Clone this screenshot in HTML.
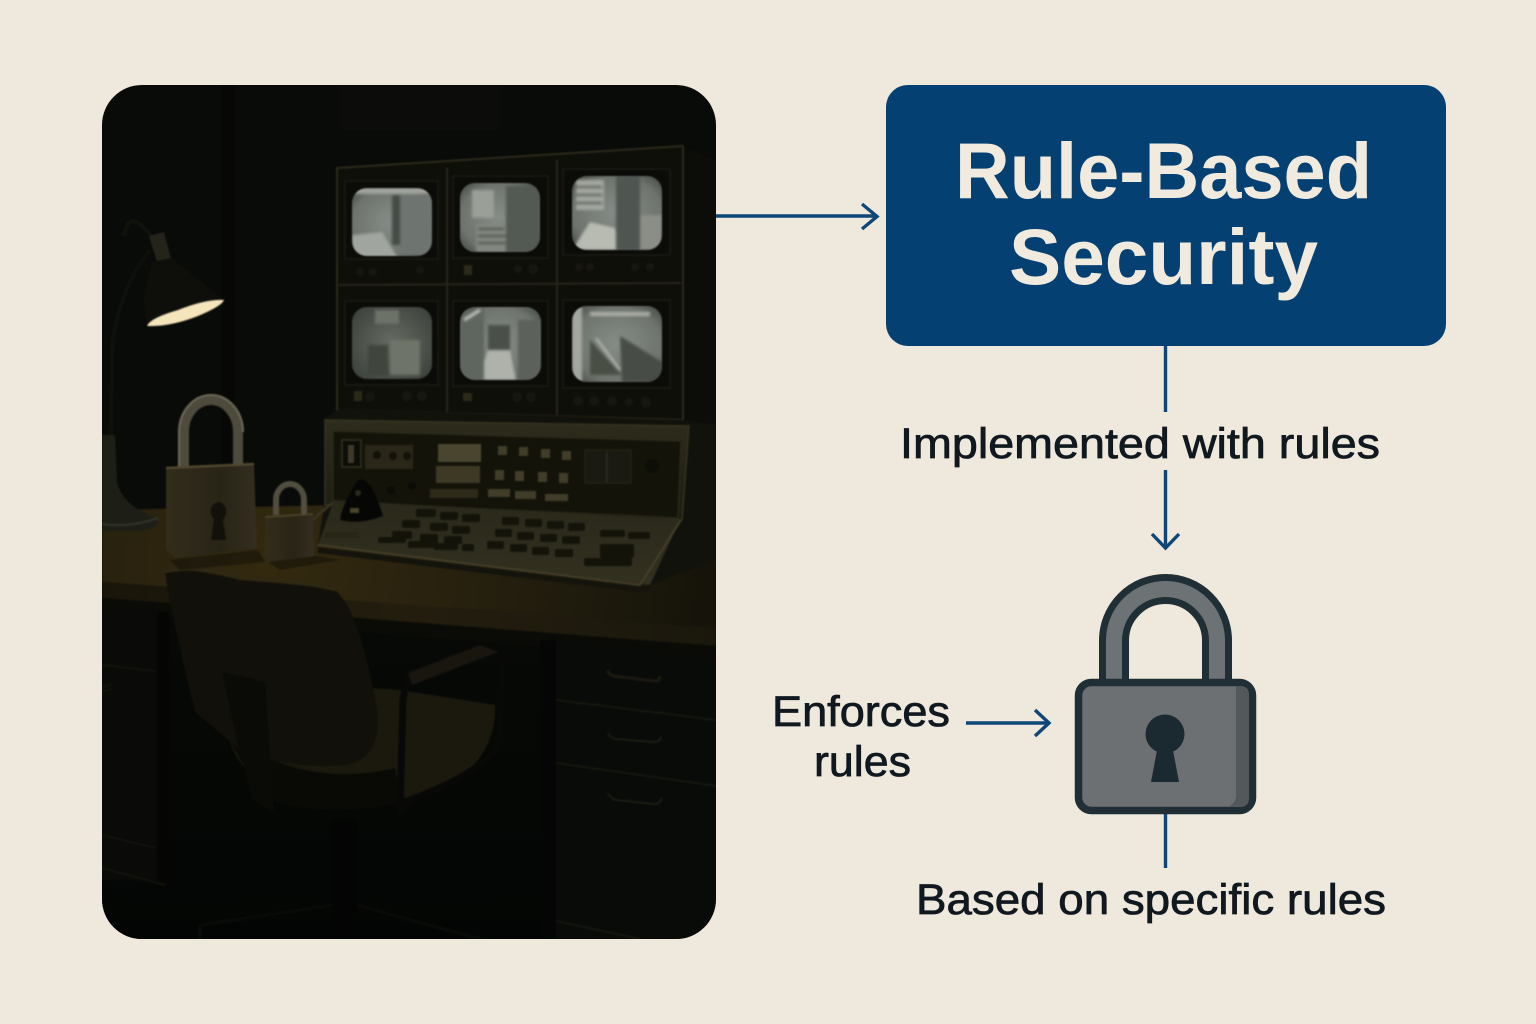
<!DOCTYPE html>
<html><head><meta charset="utf-8"><title>Rule-Based Security</title>
<style>html,body{margin:0;padding:0;background:#efe8dd}svg{display:block}text{font-family:"Liberation Sans",sans-serif;fill:#10191f}.lb{stroke:#10191f;stroke-width:.75}</style></head>
<body>
<svg width="1536" height="1024" viewBox="0 0 1536 1024" xmlns="http://www.w3.org/2000/svg">
<defs>
<clipPath id="panel"><rect x="102" y="85" width="614" height="854" rx="40"/></clipPath>
<filter id="soft" x="-2%" y="-2%" width="104%" height="104%" color-interpolation-filters="sRGB"><feGaussianBlur stdDeviation=".7"/></filter>
<filter id="soft2" x="-5%" y="-5%" width="110%" height="110%" color-interpolation-filters="sRGB"><feGaussianBlur stdDeviation="1.3"/></filter>
<radialGradient id="glow" gradientUnits="userSpaceOnUse" cx="270" cy="560" r="430"><stop offset="0" stop-color="#33290f"/><stop offset=".5" stop-color="#251f0e"/><stop offset="1" stop-color="#16140a"/></radialGradient>
<linearGradient id="floor" x1="0" y1="0" x2="0" y2="1"><stop offset="0" stop-color="#070906"/><stop offset="1" stop-color="#030504"/></linearGradient>
<linearGradient id="front" x1="0" y1="0" x2="1" y2="0"><stop offset="0" stop-color="#191509"/><stop offset=".5" stop-color="#231d0e"/><stop offset="1" stop-color="#1a170c"/></linearGradient>
<linearGradient id="console" x1="0" y1="0" x2="0" y2="1"><stop offset="0" stop-color="#2e2c1c"/><stop offset="1" stop-color="#1c1b12"/></linearGradient>
<linearGradient id="deck" x1="0" y1="0" x2="0" y2="1"><stop offset="0" stop-color="#29281a"/><stop offset="1" stop-color="#33301f"/></linearGradient>
<linearGradient id="lockB" x1="0" y1="0" x2="1" y2="0"><stop offset="0" stop-color="#332c1b"/><stop offset=".6" stop-color="#282416"/><stop offset="1" stop-color="#332e20"/></linearGradient>
<radialGradient id="scr" cx=".5" cy=".5" r=".7"><stop offset="0" stop-color="#868c87"/><stop offset=".7" stop-color="#6e746d"/><stop offset="1" stop-color="#3e443e"/></radialGradient>
<radialGradient id="scr2" cx=".5" cy=".5" r=".7"><stop offset="0" stop-color="#666b63"/><stop offset="1" stop-color="#393e38"/></radialGradient>
<clipPath id="s1"><rect x="352" y="188" width="80" height="68" rx="15"/></clipPath>
<clipPath id="s2"><rect x="460" y="183" width="80" height="69" rx="15"/></clipPath>
<clipPath id="s3"><rect x="572" y="176" width="90" height="74" rx="15"/></clipPath>
<clipPath id="s4"><rect x="352" y="307" width="80" height="72" rx="15"/></clipPath>
<clipPath id="s5"><rect x="460" y="307" width="81" height="73" rx="15"/></clipPath>
<clipPath id="s6"><rect x="572" y="306" width="90" height="76" rx="15"/></clipPath>
</defs>
<rect width="1536" height="1024" fill="#efe8dd"/>

<g clip-path="url(#panel)">
<rect x="102" y="85" width="614" height="854" fill="#090b08"/>
<g filter="url(#soft)">
<rect x="222" y="85" width="12" height="440" fill="#070806"/>
<rect x="340" y="85" width="160" height="45" fill="#0c0d0a"/>
<!-- floor -->
<rect x="102" y="600" width="614" height="339" fill="url(#floor)"/>
<!-- desk top -->
<polygon points="102,510 340,505 716,560 716,628 102,582" fill="url(#glow)"/>
<!-- desk front -->
<polygon points="102,582 716,628 716,646 102,598" fill="url(#front)"/>
<polygon points="102,598 716,646 716,660 102,612" fill="#0a0b07"/>
<!-- left drawers -->
<rect x="102" y="610" width="55" height="270" fill="#0a0b08"/>
<rect x="157" y="612" width="12" height="275" fill="#050604"/>
<path d="M102 665 L155 671 M102 835 L155 848 M102 868 L165 885" stroke="#14150f" stroke-width="1.5" fill="none"/>
<path d="M102 686 q5 2 10-3 M102 690 q5 2 10-2" stroke="#15150f" stroke-width="1.5" fill="none"/>
<!-- right cabinet -->
<rect x="540" y="640" width="16" height="299" fill="#040504"/>
<polygon points="556,640 716,660 716,939 556,939" fill="#090b08"/>
<path d="M556 700 L716 720 M556 763 L716 786 M556 921 L640 939" stroke="#181912" stroke-width="1.6" fill="none"/>
<path d="M608 670 q0 5 6 6 l40 5 q6 0 6-5" stroke="#1c1910" stroke-width="3" fill="none"/>
<path d="M608 733 q3 6 8 6 l38 3 q6 0 7-5" stroke="#1e1e15" stroke-width="1.8" fill="none"/>
<path d="M608 793 q3 6 8 7 l38 4 q6 0 8-6" stroke="#1e1e15" stroke-width="1.8" fill="none"/>
<!-- chair base -->
<rect x="333" y="820" width="24" height="119" fill="#030403"/>
<path d="M200 939 L200 925 L333 905 M357 905 L480 939" stroke="#0a0b08" stroke-width="3" fill="none"/>
<!-- lamp -->
<path d="M110 522 L112 350 Q118 290 150 250" stroke="#0f100b" stroke-width="4" fill="none"/>
<path d="M124 236 Q128 212 142 226 L152 236" stroke="#11120c" stroke-width="4" fill="none"/>
<path d="M149 236 L164 232 L171 258 L157 262Z" fill="#24241a"/>
<polygon points="152,262 172,258 224,300 147,326 143,300" fill="#0e0f0b"/>
<path d="M147 326 Q150 318 178 310 Q206 299 224 300 Q222 306 198 316 Q170 327 147 326Z" fill="#f5e5bb"/>
<!-- lamp base -->
<path d="M102 435 L115 435 L117 482 Q122 505 156 518 Q164 527 140 531 L102 531Z" fill="#1d1f16"/>
<path d="M102 524 Q130 528 158 518" stroke="#32322a" stroke-width="2" fill="none"/>
<!-- monitor bank -->
<polygon points="337,168 683,146 716,160 716,425 683,420 337,410" fill="#090a07"/>
<polygon points="683,146 716,160 716,425 683,420" fill="#0c0d09"/>
<polygon points="337,168 683,146 683,420 337,410" fill="#0f0f0a" stroke="#2c2a1b" stroke-width="2"/>
<path d="M339 285 L681 283 M447 168 V412 M557 160 V415" stroke="#26241a" stroke-width="2" fill="none"/>
<g fill="#0b0b08" stroke="#1b1a13" stroke-width="1.5">
<rect x="345" y="181" width="93" height="78"/><rect x="453" y="176" width="95" height="82"/><rect x="563" y="169" width="107" height="86"/>
<rect x="345" y="301" width="93" height="84"/><rect x="453" y="301" width="95" height="85"/><rect x="563" y="300" width="107" height="88"/>
</g>
<!-- monitor knobs -->
<g fill="#171610"><circle cx="360" cy="272" r="4"/><circle cx="373" cy="272" r="4"/><circle cx="420" cy="270" r="4"/><rect x="464" y="265" width="8" height="10" fill="#2c2a1a"/><circle cx="518" cy="269" r="4"/><circle cx="533" cy="269" r="5"/><circle cx="579" cy="267" r="4"/><circle cx="590" cy="267" r="4"/><circle cx="635" cy="267" r="4"/><circle cx="650" cy="267" r="4"/>
<rect x="354" y="391" width="8" height="10" fill="#2b2a19"/><circle cx="370" cy="397" r="5"/><circle cx="407" cy="396" r="5"/><circle cx="422" cy="396" r="5"/><rect x="463" y="393" width="9" height="8" fill="#2b2a19"/><circle cx="517" cy="397" r="5"/><circle cx="531" cy="397" r="5"/><circle cx="578" cy="401" r="5"/><circle cx="594" cy="401" r="5"/><circle cx="612" cy="401" r="5"/><circle cx="629" cy="402" r="4"/><circle cx="646" cy="402" r="5"/></g>
<!-- console -->
<polygon points="325,417 340,409 683,420 716,425 716,560 650,585 318,545 325,500" fill="#12120c"/>
<polygon points="325,420 689,426 682,520 325,505" fill="url(#console)" stroke="#37331f" stroke-width="1.5"/>
<polygon points="333,431 681,441 678,518 333,502" fill="#131309" stroke="#2a2819" stroke-width="1.5"/>
<rect x="342" y="440" width="19" height="27" fill="#0d0d08" stroke="#35311f" stroke-width="1.5"/><rect x="348" y="445" width="6" height="18" fill="#3f3a2a"/>
<rect x="365" y="445" width="48" height="24" fill="#2a2719"/><circle cx="377" cy="455" r="4" fill="#121108"/><circle cx="393" cy="456" r="4" fill="#121108"/><circle cx="407" cy="456" r="4" fill="#121108"/>
<rect x="438" y="444" width="43" height="18" fill="#4a452e"/><rect x="436" y="466" width="44" height="17" fill="#3d3925"/>
<g fill="#423d29"><rect x="498" y="446" width="9" height="9"/><rect x="519" y="447" width="9" height="9"/><rect x="541" y="449" width="9" height="9"/><rect x="562" y="451" width="9" height="9"/><rect x="495" y="470" width="9" height="10"/><rect x="515" y="471" width="9" height="10"/><rect x="538" y="472" width="9" height="10"/><rect x="559" y="473" width="9" height="10"/>
<rect x="488" y="489" width="22" height="8"/><rect x="515" y="491" width="21" height="8"/><rect x="545" y="494" width="23" height="7"/></g>
<rect x="585" y="450" width="46" height="33" fill="#1a1a13" stroke="#26261a"/><rect x="606" y="452" width="1.5" height="30" fill="#2c2c22"/>
<circle cx="652" cy="466" r="7" fill="#0e0e08"/>
<g fill="#2e2b1b"><rect x="430" y="489" width="48" height="9"/></g>
<circle cx="391" cy="490" r="4" fill="#0c0c07"/><circle cx="412" cy="486" r="4" fill="#0c0c07"/>
<!-- deck -->
<polygon points="334,500 680,520 650,585 318,545" fill="url(#deck)"/>
<path d="M318 545 L640 585 L681 520" stroke="#45402a" stroke-width="1.8" fill="none"/>
<polygon points="318,547 640,587 650,585 650,590 640,592 318,553" fill="#14130c"/>
<g fill="#131309">
<rect x="416" y="509" width="20" height="8" rx="2"/><rect x="440" y="512" width="18" height="8" rx="2"/><rect x="462" y="514" width="18" height="8" rx="2"/>
<rect x="402" y="520" width="18" height="8" rx="2"/><rect x="430" y="523" width="18" height="8" rx="2"/><rect x="452" y="526" width="18" height="8" rx="2"/>
<rect x="392" y="531" width="20" height="8" rx="2"/><rect x="420" y="534" width="18" height="8" rx="2"/><rect x="444" y="536" width="18" height="8" rx="2"/>
<rect x="378" y="537" width="28" height="6" rx="2"/><rect x="408" y="541" width="30" height="7" rx="2"/><rect x="434" y="543" width="24" height="7" rx="2"/><rect x="462" y="544" width="12" height="7" rx="2"/>
<rect x="325" y="532" width="34" height="6" rx="2" fill="#2a2616"/>
<rect x="502" y="517" width="17" height="8" rx="2"/><rect x="525" y="519" width="17" height="8" rx="2"/><rect x="547" y="521" width="17" height="8" rx="2"/><rect x="568" y="523" width="17" height="8" rx="2"/>
<rect x="495" y="529" width="17" height="8" rx="2"/><rect x="517" y="532" width="17" height="8" rx="2"/><rect x="540" y="534" width="17" height="8" rx="2"/><rect x="562" y="536" width="18" height="8" rx="2"/>
<rect x="487" y="541" width="17" height="8" rx="2"/><rect x="510" y="544" width="17" height="8" rx="2"/><rect x="532" y="547" width="17" height="8" rx="2"/><rect x="555" y="549" width="18" height="8" rx="2"/>
<rect x="600" y="544" width="34" height="14" rx="2"/><rect x="584" y="558" width="48" height="8" rx="2"/><rect x="600" y="530" width="25" height="7" rx="2"/><rect x="628" y="532" width="22" height="7" rx="2"/>
</g>
<!-- black puck -->
<path d="M340 520 Q343 502 358 480 Q365 478 372 488 Q380 505 383 516 Q360 525 340 520Z" fill="#060604"/><circle cx="358" cy="493" r="3" fill="#2c2a1b"/><rect x="350" y="508" width="9" height="5" fill="#4a4427"/>
<path d="M310 522 L332 503" stroke="#37331f" stroke-width="3"/>
<!-- chair -->
<path d="M222 700 Q280 680 400 690 L495 705 Q497 760 440 790 Q350 815 280 795 Q225 770 222 700Z" fill="#1b190e"/>
<path d="M225 732 Q300 790 395 768 L402 803 Q310 820 260 795Z" fill="#090a06"/>
<path d="M165 572 Q180 565 240 580 Q310 585 335 590 Q360 610 377 710 Q382 760 345 765 Q290 770 240 750 L195 712 Q170 610 165 572Z" fill="#11100a"/>
<path d="M165 572 Q200 565 240 578 Q310 583 335 590" stroke="#2f2914" stroke-width="2.5" fill="none"/>
<path d="M222 672 L265 682 L274 812 L252 800 L238 745Z" fill="#0a0a07"/>
<path d="M408 673 L483 645 Q498 650 501 665 L500 740 Q490 770 410 800 L400 812 L403 700Z" fill="none" stroke="#080806" stroke-width="7"/>
<path d="M408 673 L480 645 L498 652 L412 685Z" fill="#191610"/>
<!-- big padlock -->
<path d="M184 470 V432 A27 32 0 0 1 238 432 V470" fill="none" stroke="#4f4b3c" stroke-width="10"/>
<path d="M179 470 V432 A32 37 0 0 1 243 432" fill="none" stroke="#6e6a58" stroke-width="2"/>
<polygon points="166,468 254,464 257,548 176,558 166,550" fill="url(#lockB)"/>
<path d="M166 468 L254 464" stroke="#50482f" stroke-width="2.5"/>
<path d="M211 510 a7.5 7.5 0 0 1 15 0 q0 6 -3 10 l3 20 h-15 l3-20 q-3-4 -3-10z" fill="#12100a"/>
<!-- small padlock -->
<path d="M276 515 V500 A14 16 0 0 1 304 500 V515" fill="none" stroke="#524e3f" stroke-width="6"/>
<polygon points="265,517 313,514 314,556 268,562 265,556" fill="url(#lockB)"/>
<path d="M265 517 L313 514" stroke="#50482b" stroke-width="1.5"/>
<path d="M170 560 L258 550 L265 562 L180 570Z M268 562 L316 556 L340 560 L280 570Z" fill="#0f0d07" opacity=".5"/>
<!-- screens -->
<rect x="352" y="188" width="80" height="68" rx="15" fill="url(#scr)"/>
<g clip-path="url(#s1)"><g filter="url(#soft2)"><rect x="392" y="195" width="8" height="50" fill="#454b46"/><rect x="400" y="195" width="32" height="60" fill="#6e7570"/><polygon points="352,235 382,232 398,258 352,258" fill="#a0a59f"/><rect x="352" y="188" width="80" height="6" fill="#a0a49d"/></g></g>
<rect x="460" y="183" width="80" height="69" rx="15" fill="url(#scr)"/>
<g clip-path="url(#s2)"><g filter="url(#soft2)"><rect x="472" y="190" width="22" height="28" fill="#9a9f98"/><polygon points="476,224 505,222 515,252 476,252" fill="#82877f"/><path d="M478 229h26M478 236h28M478 243h30" stroke="#50544e" stroke-width="2"/><rect x="506" y="186" width="34" height="66" fill="#535953"/></g></g>
<rect x="572" y="176" width="90" height="74" rx="15" fill="url(#scr)"/>
<g clip-path="url(#s3)"><g filter="url(#soft2)"><rect x="576" y="180" width="28" height="30" fill="#a3a79f"/><path d="M576 187h26M576 195h26M576 203h26" stroke="#666b65" stroke-width="2.5"/><polygon points="572,250 590,222 615,228 620,250" fill="#b8bbb2"/><rect x="616" y="176" width="24" height="74" fill="#4f5550"/><rect x="640" y="215" width="22" height="35" fill="#8a8e87"/></g></g>
<rect x="352" y="307" width="80" height="72" rx="15" fill="url(#scr2)"/>
<g clip-path="url(#s4)"><g filter="url(#soft2)"><rect x="368" y="345" width="20" height="30" fill="#40453e"/><rect x="390" y="340" width="30" height="35" fill="#6f746a"/><rect x="375" y="310" width="24" height="14" fill="#6d7269"/></g></g>
<rect x="460" y="307" width="81" height="73" rx="15" fill="url(#scr)"/>
<g clip-path="url(#s5)"><g filter="url(#soft2)"><polygon points="488,350 510,350 516,380 478,380" fill="#aeb2aa"/><rect x="488" y="325" width="22" height="25" fill="#4a4f49"/><rect x="460" y="310" width="24" height="70" fill="#5f655f"/><rect x="518" y="320" width="23" height="60" fill="#5c615b"/><path d="M464 320 L480 310" stroke="#c9cbc4" stroke-width="3"/></g></g>
<rect x="572" y="306" width="90" height="76" rx="15" fill="url(#scr)"/>
<g clip-path="url(#s6)"><g filter="url(#soft2)"><rect x="572" y="306" width="10" height="76" fill="#a3a79f"/><polygon points="590,340 622,375 590,375" fill="#4a4f46"/><path d="M596 338 L620 370" stroke="#bcbeb6" stroke-width="2"/><polygon points="620,336 662,362 662,382 622,382" fill="#484c46"/><rect x="590" y="312" width="60" height="4" fill="#adb0a8"/></g></g>
</g>
</g>

<!-- title box -->
<rect x="886" y="85" width="560" height="261" rx="22" fill="#044071"/>
<text x="955" y="198" font-size="79" font-weight="700" textLength="417" lengthAdjust="spacingAndGlyphs" style="fill:#f1ebdf">Rule-Based</text>
<text x="1009" y="284" font-size="79" font-weight="700" textLength="309" lengthAdjust="spacingAndGlyphs" style="fill:#f1ebdf">Security</text>

<!-- connectors -->
<g stroke="#0e4677" stroke-width="3.4" fill="none">
<path d="M716 216 H877"/><path d="M862 204 L877 216.5 L862 229"/>
<path d="M1165.5 346 V412"/><path d="M1165.5 470 V547"/><path d="M1152 534 L1165.5 548 L1179 534"/>
<path d="M966 723 H1048"/><path d="M1035 710 L1049 723 L1035 736"/>
<path d="M1165.5 812 V868"/>
</g>

<!-- labels -->
<text class="lb" x="900" y="458" font-size="43" textLength="480" lengthAdjust="spacingAndGlyphs">Implemented with rules</text>
<text class="lb" x="772" y="726" font-size="43" textLength="178" lengthAdjust="spacingAndGlyphs">Enforces</text>
<text class="lb" x="814" y="776" font-size="43" textLength="97" lengthAdjust="spacingAndGlyphs">rules</text>
<text class="lb" x="916" y="914" font-size="43" textLength="470" lengthAdjust="spacingAndGlyphs">Based on specific rules</text>

<!-- lock icon -->
<path d="M1114 682 V640.5 A51.5 51.5 0 0 1 1217 640.5 V682" fill="none" stroke="#1f2f35" stroke-width="30"/>
<path d="M1114 682 V640.5 A51.5 51.5 0 0 1 1217 640.5 V682" fill="none" stroke="#6d7274" stroke-width="16"/>
<rect x="1078.5" y="682.5" width="174" height="128" rx="13" fill="#6c7073" stroke="#1f2f35" stroke-width="7.5"/>
<path d="M1236 686 H1240 Q1249 686 1249 695 V798 Q1249 807 1240 807 H1228 Q1236 803 1236 795Z" fill="#53595b"/>
<circle cx="1165" cy="734" r="19.5" fill="#1b2a31"/>
<polygon points="1158,745 1172,745 1179,782 1151,782" fill="#1b2a31"/>
</svg>
</body></html>
